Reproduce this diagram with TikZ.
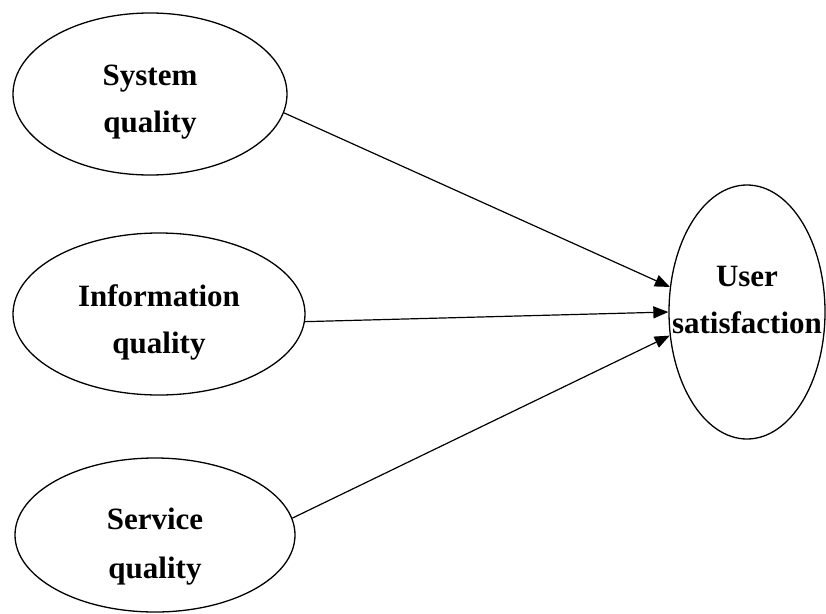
\documentclass[tikz,border=0pt]{standalone}
\usepackage{fontspec}
\setmainfont{Liberation Serif}
\usepackage{tikz}
\usetikzlibrary{arrows.meta}
\usetikzlibrary{shapes.geometric}
\tikzset{
every node/.style={ellipse, draw, line width=1.3pt, inner sep=0pt, align=center,
  font=\bfseries\fontsize{31}{47}\selectfont},
link/.style={-{Triangle[length=15pt,width=12pt]}, line width=1.2pt}
}

\begin{document}
\begin{tikzpicture}[x=1pt,y=-1pt]
\useasboundingbox (0,0) rectangle (826,613);

\node[minimum width=274pt, minimum height=162pt] (sys) at (150,94) {\mbox{}\\[-11pt]System\\quality};
\node[minimum width=292pt, minimum height=162pt] (info) at (159,314) {\mbox{}\\[-8pt]Information\\quality};
\node[minimum width=280pt, minimum height=154pt] (serv) at (155,535) {\mbox{}\\[-2pt]Service\\[2pt]quality};
\node[minimum width=156pt, minimum height=254pt] (us) at (747,312)
  {\makebox[0pt]{User}\\\makebox[0pt]{satisfaction}\\[-23pt]};

\draw[link] (sys.-8) -- (us.162);
\draw[link] (info.-3) -- (us.180);
\draw[link] (serv.7) -- (us.197);

\end{tikzpicture}
\end{document}
